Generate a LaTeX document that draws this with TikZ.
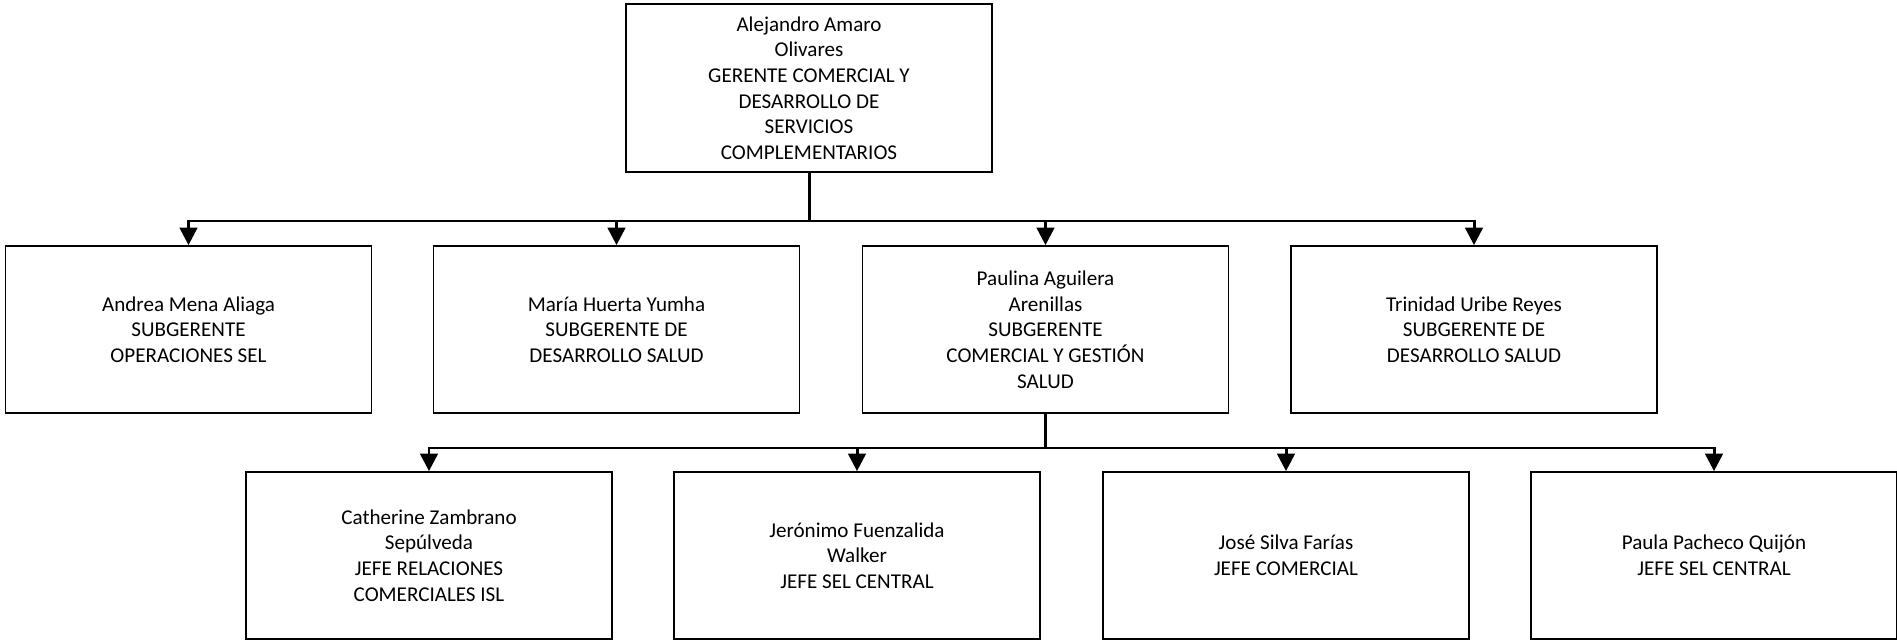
\documentclass[tikz,border=0pt]{standalone}
\usepackage{fontspec}
\setmainfont{Carlito}
\usetikzlibrary{arrows.meta}

\tikzset{
	cargo/.style = {draw, line width = 1pt, minimum width = 7.32cm, minimum height = 3.34cm, inner sep = 0pt, align = center, font = \fontsize{12}{14.6}\selectfont},
	enlace/.style = {line width = 1.7pt, -{Triangle[length = 10pt, width = 10pt]}}
}

\begin{document}
\begin{tikzpicture}[x = 0.02cm, y = -0.02cm]

	% Frame
	
	\useasboundingbox (0, 0) rectangle (1897, 641);
	
	% Gerencia
	
	\node [cargo, minimum height = 3.36cm] (gerente) at (809, 88) {Alejandro Amaro\\Olivares\\GERENTE COMERCIAL Y\\DESARROLLO DE\\SERVICIOS\\COMPLEMENTARIOS};
	
	% Subgerencias
	
	\node [cargo] (andrea) at (188.5, 329.5) {Andrea Mena Aliaga\\SUBGERENTE\\OPERACIONES SEL};
	\node [cargo] (maria) at (616.5, 329.5) {María Huerta Yumha\\SUBGERENTE DE\\DESARROLLO SALUD};
	\node [cargo] (paulina) at (1045.5, 329.5) {Paulina Aguilera\\Arenillas\\SUBGERENTE\\COMERCIAL Y GESTIÓN\\SALUD};
	\node [cargo] (trinidad) at (1474, 329.5) {Trinidad Uribe Reyes\\SUBGERENTE DE\\DESARROLLO SALUD};
	
	% Jefaturas
	
	\node [cargo] (catherine) at (429, 555.5) {Catherine Zambrano\\Sepúlveda\\JEFE RELACIONES\\COMERCIALES ISL};
	\node [cargo] (jeronimo) at (857, 555.5) {Jerónimo Fuenzalida\\Walker\\JEFE SEL CENTRAL};
	\node [cargo] (jose) at (1286, 555.5) {José Silva Farías\\JEFE COMERCIAL};
	\node [cargo] (paula) at (1714, 555.5) {Paula Pacheco Quijón\\JEFE SEL CENTRAL};
	
	% Buses
	
	\coordinate (busA) at (809, 221);
	\coordinate (busB) at (1045.5, 448);
	
	% Connectors
	
	\foreach \hijo in {andrea, maria, paulina, trinidad}
		\draw [enlace] (gerente.south) -- (gerente.south |- busA) -| (\hijo.north);
	
	\foreach \hijo in {catherine, jeronimo, jose, paula}
		\draw [enlace] (paulina.south) -- (paulina.south |- busB) -| (\hijo.north);

\end{tikzpicture}
\end{document}
